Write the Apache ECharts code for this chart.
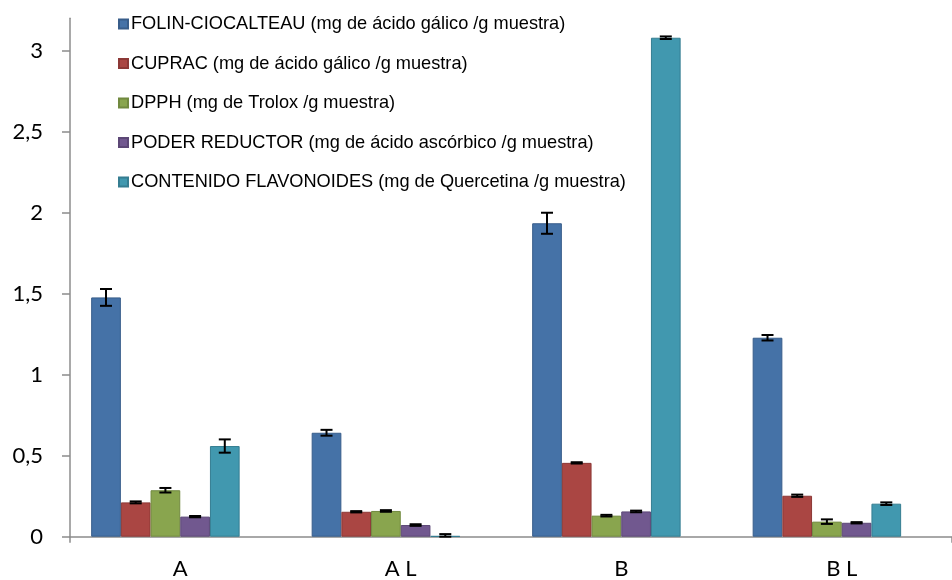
<!DOCTYPE html>
<html>
<head>
<meta charset="utf-8">
<script src="https://cdn.jsdelivr.net/npm/echarts@6/dist/echarts.min.js"></script>
<style>
  html, body { margin: 0; padding: 0; background: #ffffff; }
  #chart { width: 952px; height: 580px; }
</style>
</head>
<body>
<div id="chart"></div>
<script>
// Samples along the category axis
const categories = ['A', 'A L', 'B', 'B L'];

// Assay names shown in the legend
const seriesNames = [
  'FOLIN-CIOCALTEAU (mg de ácido gálico /g muestra)',
  'CUPRAC (mg de ácido gálico /g muestra)',
  'DPPH (mg de Trolox /g muestra)',
  'PODER REDUCTOR (mg de ácido ascórbico /g muestra)',
  'CONTENIDO FLAVONOIDES (mg de Quercetina /g muestra)'
];

// Mean values per sample (A, A L, B, B L)
const folin     = [1.478, 0.642, 1.936, 1.229];
const cuprac    = [0.212, 0.154, 0.456, 0.253];
const dpph      = [0.287, 0.159, 0.130, 0.093];
const poder     = [0.124, 0.072, 0.156, 0.086];
const flavonoid = [0.560, 0.004, 3.082, 0.204];

// Standard deviations drawn as error bars
const folinErr     = [0.052, 0.018, 0.065, 0.017];
const cupracErr    = [0.006, 0.004, 0.004, 0.007];
const dpphErr      = [0.014, 0.005, 0.005, 0.014];
const poderErr     = [0.004, 0.005, 0.005, 0.004];
const flavonoidErr = [0.041, 0.012, 0.008, 0.008];

// Y axis tick values
const yTicks = [0, 0.5, 1, 1.5, 2, 2.5, 3];

const values = [folin, cuprac, dpph, poder, flavonoid];
const errors = [folinErr, cupracErr, dpphErr, poderErr, flavonoidErr];

const fills   = ['#4572A7', '#AA4643', '#89A54E', '#71588F', '#4198AF'];
const borders = ['#385D8A', '#8C3836', '#71893F', '#5C4776', '#357D91'];

// Bars sit in six slots per category; the last slot stays empty
const SLOTS = 6;
const CATEGORY_GAP = 0.192;

const series = [];
values.forEach((arr, i) => {
  series.push({
    name: seriesNames[i],
    type: 'bar',
    data: arr,
    barGap: 0,
    barCategoryGap: (CATEGORY_GAP * 100) + '%',
    itemStyle: { color: fills[i], borderColor: borders[i], borderWidth: 1 },
    emphasis: { disabled: true },
    z: 2
  });
});
series.push({
  name: 'slot',
  type: 'bar',
  data: [],
  barGap: 0,
  barCategoryGap: (CATEGORY_GAP * 100) + '%'
});

// Error bars, positioned at each bar's centre
values.forEach((arr, i) => {
  series.push({
    type: 'custom',
    silent: true,
    z: 5,
    data: arr.map((v, k) => [k, v, errors[i][k]]),
    renderItem: function (params, api) {
      const k = api.value(0);
      const v = api.value(1);
      const e = api.value(2);
      const catW = api.size([1, 0])[0];
      const w = catW * (1 - CATEGORY_GAP) / SLOTS;
      const cx = api.coord([k, 0])[0] - (SLOTS / 2) * w + (i + 0.5) * w;
      const yTop = api.coord([k, v + e])[1];
      const yBot = api.coord([k, Math.max(0, v - e)])[1];
      const half = 6;
      const st = { stroke: '#000000', lineWidth: 2 };
      return {
        type: 'group',
        children: [
          { type: 'line', shape: { x1: cx, y1: yTop, x2: cx, y2: yBot }, style: st },
          { type: 'line', shape: { x1: cx - half, y1: yTop, x2: cx + half, y2: yTop }, style: st },
          { type: 'line', shape: { x1: cx - half, y1: yBot, x2: cx + half, y2: yBot }, style: st }
        ]
      };
    }
  });
});

const chart = echarts.init(document.getElementById('chart'), null, { renderer: 'canvas' });
chart.setOption({
  animation: false,
  backgroundColor: '#ffffff',
  grid: { left: 70, right: -9, top: 18.3, bottom: 43.3, containLabel: false },
  legend: {
    data: seriesNames,
    orient: 'vertical',
    left: 113,
    top: 10,
    itemWidth: 9,
    itemHeight: 9,
    itemGap: 21.5,
    icon: 'rect',
    selectedMode: false,
    textStyle: { fontFamily: 'Liberation Sans', fontSize: 18.2, color: '#000000', lineHeight: 18, padding: [0, 0, 0, -2] }
  },
  xAxis: {
    type: 'category',
    data: categories,
    axisLine: { lineStyle: { color: '#8c8c8c', width: 1.5 } },
    axisTick: { show: true, interval: (idx) => idx === 0, length: 6, lineStyle: { color: '#8c8c8c', width: 1.5 } },
    axisLabel: { fontFamily: 'Lato', fontSize: 22, color: '#000000', margin: 21 },
    splitLine: { show: false }
  },
  yAxis: {
    type: 'value',
    min: 0,
    max: 3.202,
    interval: 0.5,
    axisLine: { show: true, lineStyle: { color: '#8c8c8c', width: 1.5 } },
    axisTick: { show: true, length: 8, customValues: yTicks, lineStyle: { color: '#8c8c8c', width: 1.5 } },
    axisLabel: {
      customValues: yTicks,
      fontFamily: 'Lato',
      fontSize: 22,
      color: '#000000',
      margin: 27,
      formatter: (v) => String(v).replace('.', ',')
    },
    splitLine: { show: false }
  },
  series: series
});
</script>
</body>
</html>
